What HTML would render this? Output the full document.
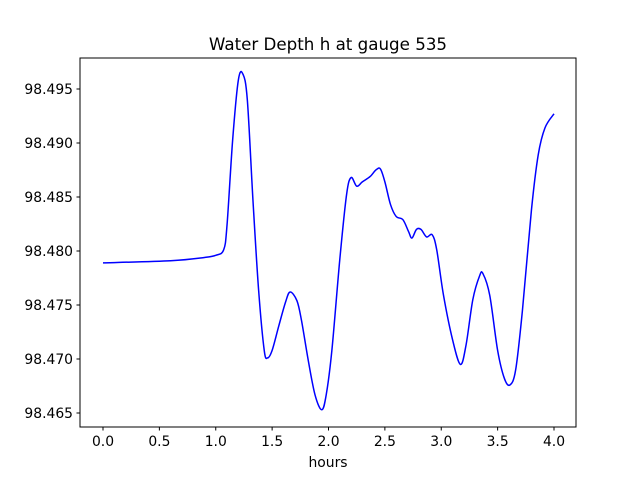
<!DOCTYPE html>
<html><head><meta charset="utf-8"><style>
body{margin:0;background:#fff}
svg text{font-family:"DejaVu Sans","Liberation Sans",sans-serif;fill:#000}
</style></head><body>
<svg id="chart" width="640" height="480">
<rect x="0" y="0" width="640" height="480" fill="#fff"/>
<text x="328" y="50" font-size="16.7" text-anchor="middle">Water Depth h at gauge 535</text>
<g id="ticks"></g>
<path id="line" fill="none" stroke="#0000ff" stroke-width="1.5"/>
<rect x="80" y="58" width="496" height="369" fill="none" stroke="#000" stroke-width="1"/>
<text x="328" y="467" font-size="13.9" text-anchor="middle">hours</text>
</svg>
<script>
const hours=[0,0.6,0.9,1.0,1.07,1.1,1.15,1.2,1.24,1.28,1.33,1.38,1.43,1.46,1.5,1.56,1.62,1.66,1.72,1.76,1.82,1.88,1.94,1.98,2.03,2.1,2.16,2.2,2.25,2.3,2.37,2.42,2.46,2.5,2.55,2.6,2.66,2.71,2.74,2.78,2.82,2.87,2.92,2.96,3.02,3.1,3.17,3.22,3.28,3.34,3.37,3.43,3.5,3.56,3.61,3.66,3.72,3.8,3.86,3.92,4.0];
const depth=[98.4789,98.4791,98.4794,98.4796,98.4801,98.4824,98.4903,98.4958,98.4964,98.4940,98.4847,98.4764,98.4708,98.4701,98.4708,98.4731,98.4753,98.4762,98.4754,98.4736,98.4699,98.4667,98.4653,98.4667,98.4708,98.4792,98.4852,98.4868,98.4860,98.4864,98.4869,98.4875,98.4876,98.4864,98.4843,98.4832,98.4829,98.4818,98.4812,98.4820,98.4820,98.4813,98.4815,98.4801,98.4759,98.4718,98.4695,98.4713,98.4755,98.4777,98.4779,98.4759,98.4708,98.4682,98.4676,98.4690,98.4745,98.4838,98.4889,98.4914,98.4927];
const xTicks=[0,0.5,1,1.5,2,2.5,3,3.5,4];
const xTickLabels=["0.0","0.5","1.0","1.5","2.0","2.5","3.0","3.5","4.0"];
const yTicks=[98.465,98.470,98.475,98.480,98.485,98.490,98.495];
const yTickLabels=["98.465","98.470","98.475","98.480","98.485","98.490","98.495"];
const xs=v=>103+v*112.75;
const ys=v=>89+(98.495-v)*10800;
const NS="http://www.w3.org/2000/svg";
const g=document.getElementById('ticks');
xTicks.forEach((t,i)=>{
 const l=document.createElementNS(NS,'line');
 l.setAttribute('x1',xs(t));l.setAttribute('x2',xs(t));l.setAttribute('y1',427);l.setAttribute('y2',430.5);l.setAttribute('stroke','#000');
 
 
 g.appendChild(l);
 const tx=document.createElementNS(NS,'text');
 tx.setAttribute('x',xs(t));tx.setAttribute('y',446);tx.setAttribute('font-size','13.9');tx.setAttribute('text-anchor','middle');
 tx.textContent=xTickLabels[i];
 
 
 g.appendChild(tx);
});
yTicks.forEach((t,i)=>{
 const l=document.createElementNS(NS,'line');
 l.setAttribute('x1',76.5);l.setAttribute('x2',80);l.setAttribute('y1',ys(t));l.setAttribute('y2',ys(t));l.setAttribute('stroke','#000');
 
 
 g.appendChild(l);
 const tx=document.createElementNS(NS,'text');
 tx.setAttribute('x',73);tx.setAttribute('y',ys(t)+5);tx.setAttribute('font-size','13.9');tx.setAttribute('text-anchor','end');
 tx.textContent=yTickLabels[i];
 
 
 g.appendChild(tx);
});
const P=hours.map((h,i)=>[xs(h),ys(depth[i])]);
let d='M'+P[0][0]+','+P[0][1];
for(let i=0;i<P.length-1;i++){
 const p0=P[Math.max(0,i-1)],p1=P[i],p2=P[i+1],p3=P[Math.min(P.length-1,i+2)];
 const c1=[p1[0]+(p2[0]-p0[0])/6,p1[1]+(p2[1]-p0[1])/6];
 const c2=[p2[0]-(p3[0]-p1[0])/6,p2[1]-(p3[1]-p1[1])/6];
 d+=' C'+c1+' '+c2+' '+p2;
}
document.getElementById('line').setAttribute('d',d);
</script>
</body></html>
